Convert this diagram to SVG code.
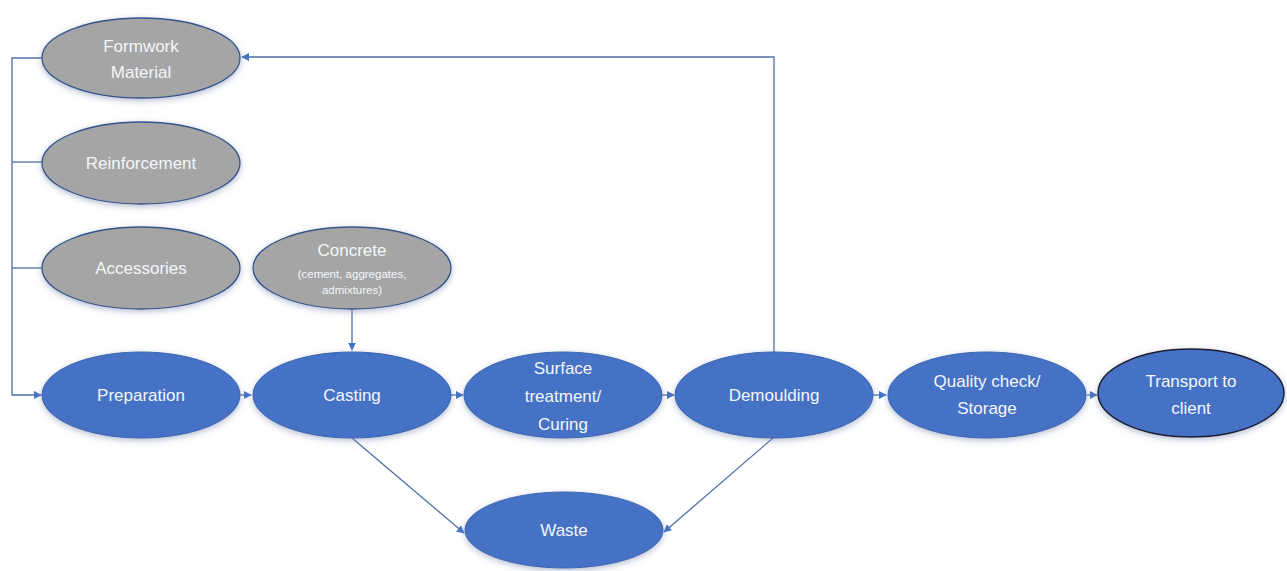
<svg xmlns="http://www.w3.org/2000/svg" width="1287" height="571" viewBox="0 0 1287 571">
<defs>
<filter id="sh" x="-20%" y="-30%" width="140%" height="160%">
<feDropShadow dx="0" dy="2" stdDeviation="3" flood-color="#7f8fb0" flood-opacity="0.6"/>
</filter>
<marker id="ah" viewBox="0 0 10 10" refX="9" refY="5" markerWidth="8" markerHeight="8" markerUnits="userSpaceOnUse" orient="auto">
<path d="M0,0 L10,5 L0,10 z" fill="#4472C4"/>
</marker>
</defs>
<style>
.blue{fill:#4472C4;stroke:#3a64b0;stroke-width:1;filter:url(#sh)}
.grey{fill:#A5A5A5;stroke:#34558f;stroke-width:1.3;filter:url(#sh)}
.t{fill:#f4f6fa;font-family:"Liberation Sans",Arial,sans-serif;font-size:17px;text-anchor:middle}
.s{font-size:11.5px}
.c{fill:none;stroke:#4f6fa8;stroke-width:1.3}
</style>
<rect width="1287" height="571" fill="#ffffff"/>
<g id="connectors">
<path class="c" d="M42,58 H12 V395 H41" marker-end="url(#ah)"/>
<path class="c" d="M12,162 H42"/>
<path class="c" d="M12,268 H42"/>
<path class="c" d="M774,352 V57 H242" marker-end="url(#ah)"/>
<path class="c" d="M352,310 V350" marker-end="url(#ah)"/>
<path class="c" d="M240,395 H251" marker-end="url(#ah)"/>
<path class="c" d="M451,395 H463" marker-end="url(#ah)"/>
<path class="c" d="M662,395 H674" marker-end="url(#ah)"/>
<path class="c" d="M873,395 H886" marker-end="url(#ah)"/>
<path class="c" d="M1087,395 H1097" marker-end="url(#ah)"/>
<path class="c" d="M352,438 L464,533" marker-end="url(#ah)"/>
<path class="c" d="M773,438 L664,532" marker-end="url(#ah)"/>
</g>
<g id="formwork"><ellipse class="grey" cx="141" cy="58" rx="99" ry="40"/><text class="t" x="141" y="52">Formwork</text><text class="t" x="141" y="78">Material</text></g>
<g id="reinforcement"><ellipse class="grey" cx="141" cy="163" rx="99" ry="41"/><text class="t" x="141" y="169">Reinforcement</text></g>
<g id="accessories"><ellipse class="grey" cx="141" cy="268" rx="99" ry="41"/><text class="t" x="141" y="274">Accessories</text></g>
<g id="concrete"><ellipse class="grey" cx="352" cy="268" rx="99" ry="41"/><text class="t" x="352" y="256">Concrete</text><text class="t s" x="352" y="278">(cement, aggregates,</text><text class="t s" x="352" y="294">admixtures)</text></g>
<g id="preparation"><ellipse class="blue" cx="141" cy="395" rx="99" ry="43"/><text class="t" x="141" y="401">Preparation</text></g>
<g id="casting"><ellipse class="blue" cx="352" cy="395" rx="99" ry="43"/><text class="t" x="352" y="401">Casting</text></g>
<g id="surface"><ellipse class="blue" cx="563" cy="395" rx="99" ry="43"/><text class="t" x="563" y="374">Surface</text><text class="t" x="563" y="402">treatment/</text><text class="t" x="563" y="430">Curing</text></g>
<g id="demoulding"><ellipse class="blue" cx="774" cy="395" rx="99" ry="43"/><text class="t" x="774" y="401">Demoulding</text></g>
<g id="quality"><ellipse class="blue" cx="987" cy="395" rx="99" ry="43"/><text class="t" x="987" y="387">Quality check/</text><text class="t" x="987" y="414">Storage</text></g>
<g id="transport"><ellipse class="blue" cx="1191" cy="393" rx="93" ry="44" style="stroke:#1a1a2e;stroke-width:1.5"/><text class="t" x="1191" y="387">Transport to</text><text class="t" x="1191" y="414">client</text></g>
<g id="waste"><ellipse class="blue" cx="564" cy="530" rx="99" ry="38"/><text class="t" x="564" y="536">Waste</text></g>
</svg>
